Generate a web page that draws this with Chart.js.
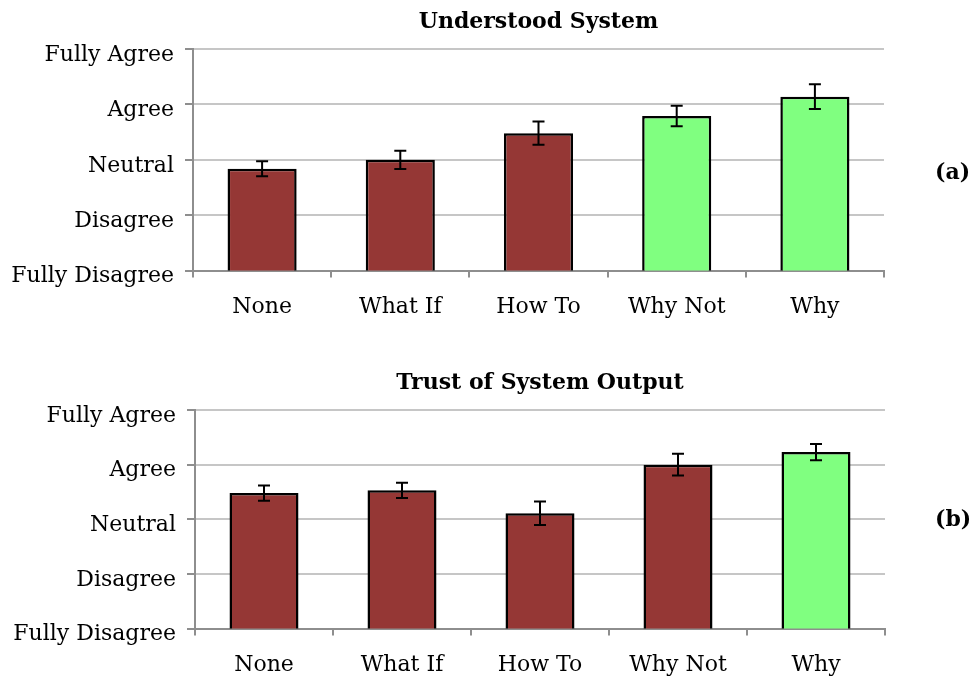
<!DOCTYPE html>
<html>
<head>
<meta charset="utf-8">
<script src="https://cdn.jsdelivr.net/npm/chart.js@4/dist/chart.umd.min.js"></script>
<style>
  html, body { margin: 0; padding: 0; background: #ffffff; }
  #wrap { position: relative; width: 977px; height: 679px; overflow: hidden; }
  canvas { position: absolute; left: 0; }
  .tag { position: absolute; font: bold 22px "DejaVu Serif", serif; color: #000; }
</style>
</head>
<body>
<div id="wrap">
  <canvas id="understood" width="977" height="340" style="top:0"></canvas>
  <canvas id="trust" width="977" height="358" style="top:340px"></canvas>
  <div class="tag" style="left:935px; top:158px">(a)</div>
  <div class="tag" style="left:935px; top:505px">(b)</div>
</div>
<script>
// Explanation types compared in the study
const categories = ['None', 'What If', 'How To', 'Why Not', 'Why'];

// Likert scale labels (1 = Fully Disagree ... 5 = Fully Agree)
const likertLabels = ['Fully Disagree', 'Disagree', 'Neutral', 'Agree', 'Fully Agree'];

// "Understood System" mean ratings and standard errors
const understoodMeans  = [2.84, 3.00, 3.48, 3.79, 4.14];
const understoodErrors = [0.135, 0.165, 0.21, 0.185, 0.225];
const understoodBest   = ['Why Not', 'Why'];

// "Trust of System Output" mean ratings and standard errors
const trustMeans  = [3.48, 3.53, 3.11, 4.00, 4.23];
const trustErrors = [0.14, 0.14, 0.215, 0.20, 0.15];
const trustBest   = ['Why'];

const FONT = '"DejaVu Serif", serif';
const RED = '#953735';
const GREEN = '#80ff80';

// Draws symmetric error bars on top of each bar
const errorBarPlugin = {
  id: 'errorBars',
  afterDatasetsDraw(chart) {
    const errs = chart.options.plugins.errorBars.values;
    const meta = chart.getDatasetMeta(0);
    const y = chart.scales.y;
    const ctx = chart.ctx;
    ctx.save();
    ctx.strokeStyle = '#000';
    ctx.lineWidth = 2;
    meta.data.forEach((bar, i) => {
      const v = chart.data.datasets[0].data[i];
      const top = y.getPixelForValue(v + errs[i]);
      const bot = y.getPixelForValue(v - errs[i]);
      const x = bar.x;
      ctx.beginPath();
      ctx.moveTo(x, top); ctx.lineTo(x, bot);
      ctx.moveTo(x - 6, top); ctx.lineTo(x + 6, top);
      ctx.moveTo(x - 6, bot); ctx.lineTo(x + 6, bot);
      ctx.stroke();
    });
    ctx.restore();
  }
};

function makeChart(id, title, means, errors, best, opts) {
  return new Chart(document.getElementById(id), {
    type: 'bar',
    data: {
      labels: categories,
      datasets: [{
        data: means,
        backgroundColor: categories.map(c => best.includes(c) ? GREEN : RED),
        borderColor: '#000',
        borderWidth: 2.5,
        categoryPercentage: 1,
        barPercentage: 0.5
      }]
    },
    options: {
      responsive: false,
      devicePixelRatio: 1,
      animation: false,
      events: [],
      layout: { padding: { left: 0, right: opts.right, top: 0, bottom: opts.bottom } },
      plugins: {
        legend: { display: false },
        tooltip: { enabled: false },
        title: {
          display: true,
          text: title,
          fullSize: false,
          color: '#000',
          font: { family: FONT, size: 22, weight: 'bold' },
          padding: { top: opts.titleTop, bottom: opts.titleBottom }
        },
        errorBars: { values: errors }
      },
      scales: {
        x: {
          offset: true,
          grid: {
            offset: true,
            drawOnChartArea: false,
            drawTicks: true,
            tickLength: 7,
            color: '#8e8e8e',
            lineWidth: 2
          },
          border: { color: '#8e8e8e', width: 2 },
          ticks: { color: '#000', font: { family: FONT, size: 22 }, padding: 16 }
        },
        y: {
          min: 1,
          max: 5,
          afterFit(scale) { scale.width = opts.axisX; },
          grid: {
            color: '#c6c6c6',
            lineWidth: 2,
            tickLength: 8,
            tickColor: '#8e8e8e'
          },
          border: { color: '#8e8e8e', width: 2 },
          ticks: {
            stepSize: 1,
            color: '#000',
            font: { family: FONT, size: 22 },
            padding: 11,
            labelOffset: 6,
            callback: v => likertLabels[v - 1]
          }
        }
      }
    },
    plugins: [errorBarPlugin]
  });
}

makeChart('understood', 'Understood System', understoodMeans, understoodErrors, understoodBest,
  { right: 93, bottom: 4, axisX: 193, titleTop: 9, titleBottom: 13.6 });
makeChart('trust', 'Trust of System Output', trustMeans, trustErrors, trustBest,
  { right: 92, bottom: 4, axisX: 195, titleTop: 30, titleBottom: 13.6 });
</script>
</body>
</html>
